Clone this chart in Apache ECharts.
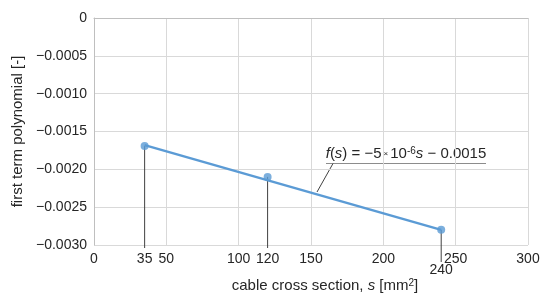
<!DOCTYPE html>
<html>
<head>
<meta charset="utf-8">
<script src="https://cdn.jsdelivr.net/npm/echarts@6/dist/echarts.min.js"></script>
<style>
  html, body { margin: 0; padding: 0; background: #fff; }
  #chart { width: 550px; height: 303px; }
</style>
</head>
<body>
<div id="chart"></div>
<script>
// measured cross sections and their first polynomial term
const sections = [35, 120, 240];
const firstTerm = [-0.00169, -0.00210, -0.00280];
// linear trend drawn between the end sections
const trendX = [35, 240];
const trendY = [-0.00168, -0.00280];
const xTicks = { min: 0, max: 300, interval: 50 };
const yTicks = { min: -0.003, max: 0, interval: 0.0005 };

const FONT = 'Liberation Sans, Arial, sans-serif';
const TEXT = '#262626';
const BLUE = '#5b9bd5';

const chart = echarts.init(document.getElementById('chart'));

function fmtY(v) {
    if (Math.abs(v) < 1e-12) return '0';
    return '\u2212' + Math.abs(v).toFixed(4);
}

// vertical drop line from each point, with its own x label under the axis
function dropLine(params, api) {
    const x = api.value(0);
    const p = api.coord([x, api.value(1)]);
    const b = api.coord([x, yTicks.min]);
    const near = Math.abs(x - Math.round(x / 50) * 50) < 12; // would hit an axis label
    const ext = near ? 17 : 3;
    const labelY = near ? b[1] + 25 : b[1] + 14;
    return {
        type: 'group',
        children: [{
            type: 'line',
            shape: { x1: p[0], y1: p[1], x2: b[0], y2: b[1] + ext },
            style: { stroke: '#404040', lineWidth: 1 }
        }, {
            type: 'text',
            x: b[0], y: labelY,
            style: {
                text: String(x), font: '14px ' + FONT, fill: TEXT,
                align: 'center', verticalAlign: 'middle'
            }
        }]
    };
}

chart.setOption({
    animation: false,
    grid: { left: 94, right: 22, top: 18, bottom: 58 },
    xAxis: {
        type: 'value',
        min: xTicks.min, max: xTicks.max, interval: xTicks.interval,
        axisLine: { show: true, lineStyle: { color: '#bfbfbf' } },
        axisTick: { show: false },
        splitLine: { lineStyle: { color: '#d9d9d9' } },
        axisLabel: { color: TEXT, fontFamily: FONT, fontSize: 14, margin: 7 },
        name: 'cable cross section, {i|s} [mm{sup|2}]',
        nameLocation: 'middle',
        nameGap: 33,
        nameTextStyle: {
            color: TEXT, fontFamily: FONT, fontSize: 15, padding: [0, 0, 0, 28],
            rich: {
                i: { fontStyle: 'italic', fontFamily: FONT, fontSize: 15, color: TEXT },
                sup: { fontFamily: FONT, fontSize: 10, color: TEXT, verticalAlign: 'top', padding: [0, 0, 6, 0] }
            }
        }
    },
    yAxis: {
        type: 'value',
        min: yTicks.min, max: yTicks.max, interval: yTicks.interval,
        axisLine: { show: true, onZero: false, lineStyle: { color: '#bfbfbf' } },
        axisTick: { show: false },
        splitLine: { lineStyle: { color: '#d9d9d9' } },
        axisLabel: { color: TEXT, fontFamily: FONT, fontSize: 14, margin: 7, formatter: fmtY },
        name: 'first term polynomial [-]',
        nameLocation: 'middle',
        nameGap: 67,
        nameTextStyle: { color: TEXT, fontFamily: FONT, fontSize: 15 }
    },
    series: [{
        type: 'custom',
        renderItem: dropLine,
        data: sections.map((s, i) => [s, firstTerm[i]]),
        z: 1
    }, {
        type: 'line',
        data: trendX.map((s, i) => [s, trendY[i]]),
        symbol: 'none',
        lineStyle: { color: BLUE, width: 2.5 },
        z: 2
    }, {
        type: 'scatter',
        data: sections.map((s, i) => [s, firstTerm[i]]),
        symbolSize: 8,
        itemStyle: { color: BLUE },
        z: 3
    }],
    graphic: [{
        type: 'line',
        shape: { x1: 326, y1: 163.5, x2: 486, y2: 163.5 },
        style: { stroke: '#8c8c8c', lineWidth: 1.2 }
    }, {
        type: 'line',
        shape: { x1: 333, y1: 163.5, x2: 317, y2: 192 },
        style: { stroke: '#404040', lineWidth: 1 }
    }, {
        type: 'text',
        x: 406, y: 154,
        style: {
            text: '{i|f}({i|s}) = \u22125{x|\u00d7}10{sup|-6}{i|s} \u2212 0.0015',
            font: '15px ' + FONT, fill: TEXT,
            align: 'center', verticalAlign: 'middle',
            rich: {
                i: { fontStyle: 'italic', fontFamily: FONT, fontSize: 15, fill: TEXT },
                x: { fontFamily: FONT, fontSize: 8, fill: TEXT, padding: [0, 2, 0, 2] },
                sup: { fontFamily: FONT, fontSize: 10, fill: TEXT, verticalAlign: 'top', padding: [0, 0, 6, 0] }
            }
        }
    }]
});
</script>
</body>
</html>
